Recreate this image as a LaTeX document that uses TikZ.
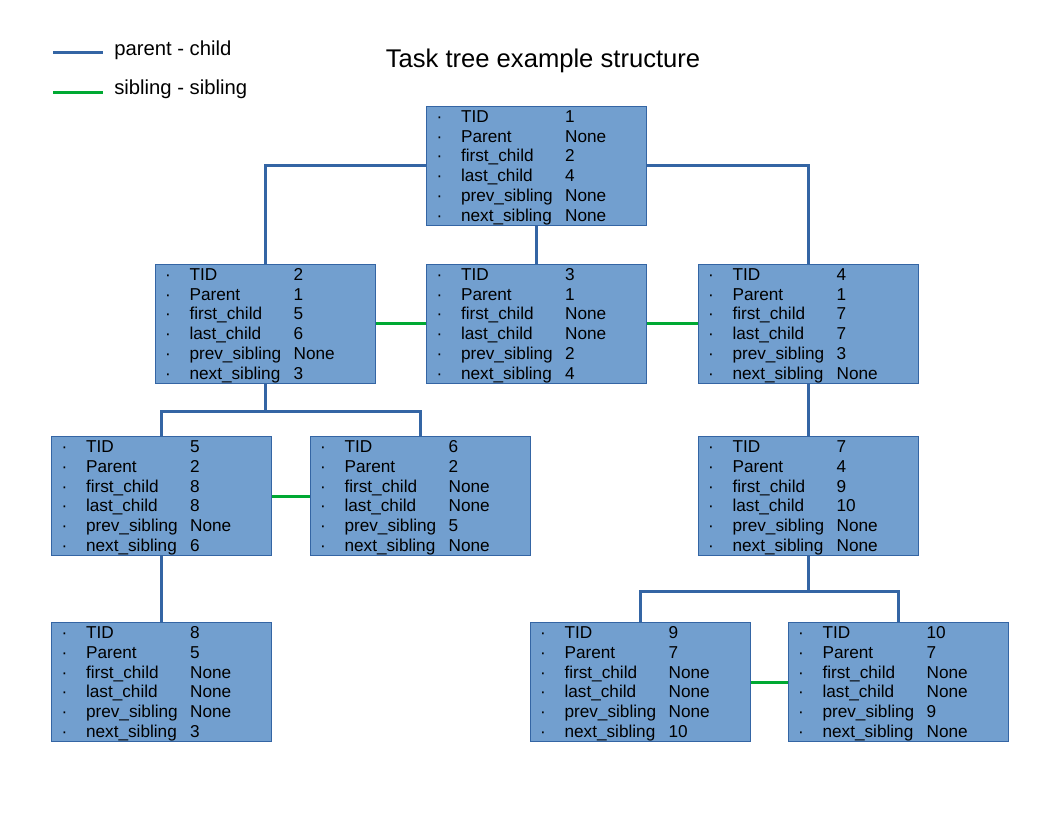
\documentclass[tikz,border=0pt]{standalone}
\usepackage{fontspec}
\setmainfont{Liberation Sans}
\usepackage{tikz}
\usetikzlibrary{calc}
\definecolor{taskfill}{HTML}{729FCF}
\definecolor{taskedge}{HTML}{3465A4}
\definecolor{linkblue}{HTML}{3465A4}
\definecolor{linkgreen}{HTML}{00A933}
\tikzset{
  task/.style={draw=taskedge,line width=0.75pt,fill=taskfill,minimum width=165pt,
               minimum height=89.25pt,inner xsep=7.5pt,inner ysep=0pt,text width=150pt,
               align=left,font=\fontsize{12.9}{14.85}\selectfont},
  parentlink/.style={linkblue,line width=2.25pt},
  siblinglink/.style={linkgreen,line width=2.25pt},
  legendtext/.style={anchor=base west,inner sep=0pt,font=\fontsize{15.2}{18}\selectfont},
}
\newcommand{\taskrow}[2]{\makebox[18.4pt][l]{\textperiodcentered}\makebox[78.1pt][l]{#1}#2\rule[-3pt]{0pt}{14.85pt}}
\newcommand{\taskfields}[6]{\taskrow{TID}{#1}\\\taskrow{Parent}{#2}\\\taskrow{first\_child}{#3}\\
  \taskrow{last\_child}{#4}\\\taskrow{prev\_sibling}{#5}\\\taskrow{next\_sibling}{#6}}

\begin{document}
\begin{tikzpicture}[x=0.75pt,y=-0.75pt]
  \path[use as bounding box,fill=white] (0,0) rectangle (1056,816);

  % legend and title
  \draw[parentlink] (53,53) -- (103,53);
  \draw[siblinglink] (53,93) -- (103,93);
  \node[legendtext] (legparent) at (114,56) {parent - child};
  \node[legendtext] (legsibling) at (114,95) {sibling - sibling};
  \node[anchor=base,font=\fontsize{19.2}{22}\selectfont] (title) at (543,68)
    {Task tree example structure};

  % tasks
  \node[task] (t1) at (536.5,166) {\taskfields{1}{None}{2}{4}{None}{None}};
  \node[task] (t2) at (265,324) {\taskfields{2}{1}{5}{6}{None}{3}};
  \node[task] (t3) at (536.5,324) {\taskfields{3}{1}{None}{None}{2}{4}};
  \node[task] (t4) at (808,324) {\taskfields{4}{1}{7}{7}{3}{None}};
  \node[task] (t5) at (161.5,496) {\taskfields{5}{2}{8}{8}{None}{6}};
  \node[task] (t6) at (420,496) {\taskfields{6}{2}{None}{None}{5}{None}};
  \node[task] (t7) at (808,496) {\taskfields{7}{4}{9}{10}{None}{None}};
  \node[task] (t8) at (161.5,682) {\taskfields{8}{5}{None}{None}{None}{3}};
  \node[task] (t9) at (640,682) {\taskfields{9}{7}{None}{None}{None}{10}};
  \node[task] (t10) at (898,682) {\taskfields{10}{7}{None}{None}{9}{None}};

  % parent - child links
  \draw[parentlink] (t1.west) -| (t2.north);
  \draw[parentlink] (t1.east) -| (t4.north);
  \draw[parentlink] (t1.south) -- (t3.north);
  \draw[parentlink] (t2.south) -- ++(0,27) -| (t5.north);
  \draw[parentlink] (t2.south) -- ++(0,27) -| (t6.north);
  \draw[parentlink] (t4.south) -- (t7.north);
  \draw[parentlink] (t5.south) -- (t8.north);
  \draw[parentlink] (t7.south) -- ++(0,35) -| (t9.north);
  \draw[parentlink] (t7.south) -- ++(0,35) -| (t10.north);

  % sibling - sibling links
  \draw[siblinglink] (t2.east) -- (t3.west);
  \draw[siblinglink] (t3.east) -- (t4.west);
  \draw[siblinglink] (t5.east) -- (t6.west);
  \draw[siblinglink] (t9.east) -- (t10.west);
\end{tikzpicture}
\end{document}
